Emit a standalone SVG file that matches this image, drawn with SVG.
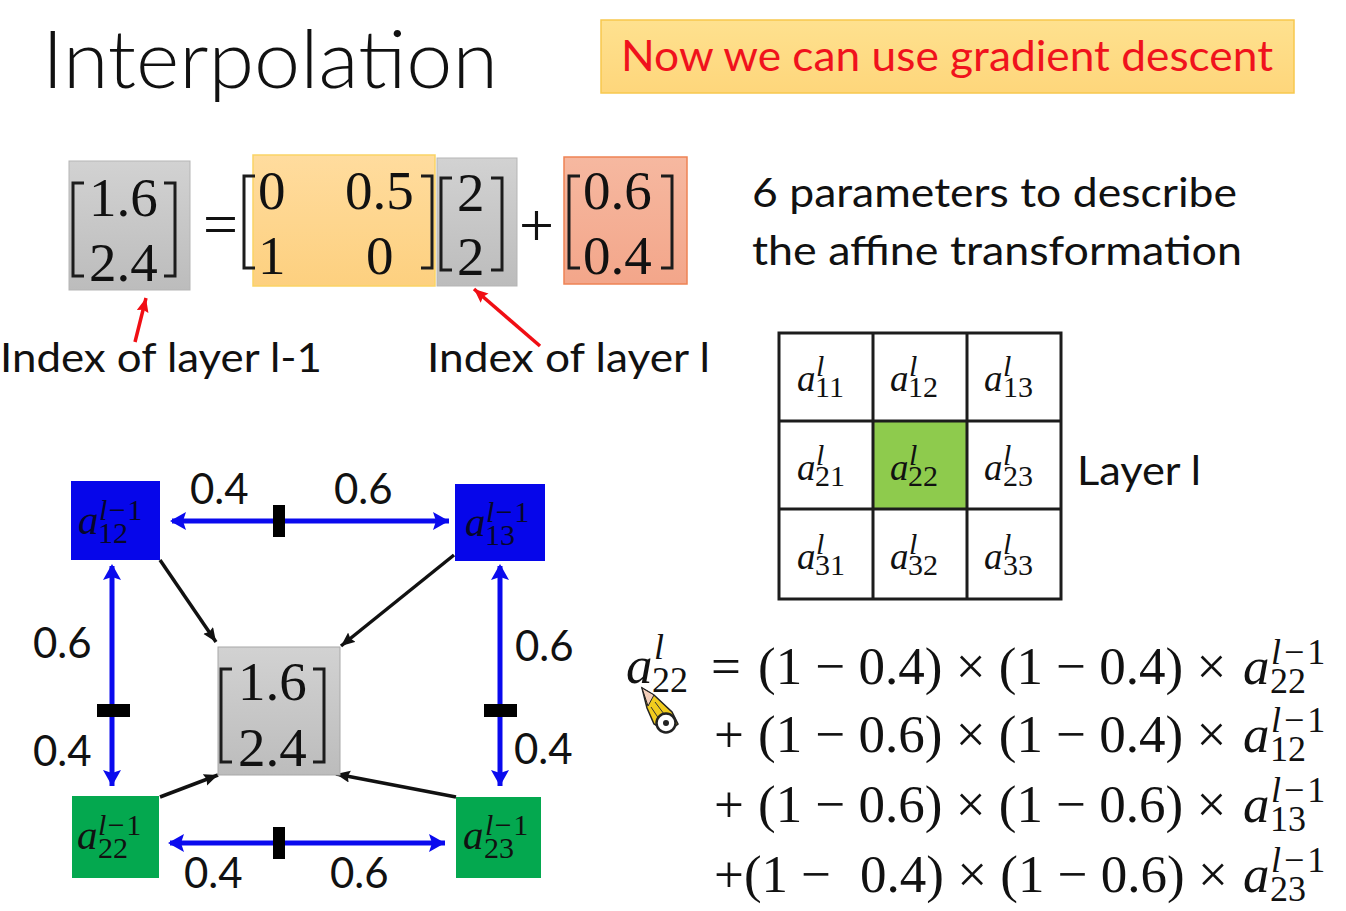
<svg xmlns="http://www.w3.org/2000/svg" width="1346" height="911" viewBox="0 0 1346 911">
<style>
text{font-family:"Liberation Serif",serif;fill:#111}
.s{font-family:Lato,"Open Sans",sans-serif}
.m{font-size:55px}
.op{font-size:62px}
.e{font-size:53px}
.i{font-style:italic}
.g{font-size:36px}
.ca{font-size:37px}
.t{font-size:30px}
.na{font-size:41px}
.lab{font-family:Lato,"Open Sans",sans-serif;font-size:42px}
.ls{letter-spacing:3px}
.ln{letter-spacing:1.5px}
.dk{fill:#07072a}
.br{fill:none;stroke:#1c1c1c;stroke-width:3}
.blue{stroke:#0a0aee;stroke-width:5;marker-start:url(#bs);marker-end:url(#be);fill:none}
.blk{stroke:#111;stroke-width:3.5;marker-end:url(#k);fill:none}
.red{stroke:#f00e14;stroke-width:3.5;marker-end:url(#r);fill:none}
.tick{fill:#000}
.grid{stroke:#1c1c1c;stroke-width:3;fill:none}
</style>
<defs>
<linearGradient id="gy" x1="0" y1="0" x2="0" y2="1"><stop offset="0" stop-color="#d2d2d2"/><stop offset="1" stop-color="#bcbcbc"/></linearGradient>
<linearGradient id="ye" x1="0" y1="0" x2="0" y2="1"><stop offset="0" stop-color="#ffdc9e"/><stop offset="1" stop-color="#fdd07f"/></linearGradient>
<linearGradient id="sa" x1="0" y1="0" x2="0" y2="1"><stop offset="0" stop-color="#f6b8a0"/><stop offset="1" stop-color="#f3a68a"/></linearGradient>
<linearGradient id="ban" x1="0" y1="0" x2="0" y2="1"><stop offset="0" stop-color="#fee18f"/><stop offset="1" stop-color="#fed67b"/></linearGradient>
<marker id="be" markerUnits="userSpaceOnUse" markerWidth="18" markerHeight="20" refX="16" refY="9" orient="auto"><path d="M0 0L16 9L0 18L3 9Z" fill="#0a0aee"/></marker>
<marker id="bs" markerUnits="userSpaceOnUse" markerWidth="18" markerHeight="20" refX="2" refY="9" orient="auto"><path d="M16 0L0 9L16 18L13 9Z" fill="#0a0aee"/></marker>
<marker id="k" markerUnits="userSpaceOnUse" markerWidth="16" markerHeight="14" refX="14" refY="6" orient="auto"><path d="M0 0L14 6L0 12L2 6Z" fill="#111"/></marker>
<marker id="r" markerUnits="userSpaceOnUse" markerWidth="16" markerHeight="14" refX="14" refY="6" orient="auto"><path d="M0 0L14 6L0 12L2 6Z" fill="#f00e14"/></marker>
</defs>
<rect width="1346" height="911" fill="#fff"/>

<g id="title"><text class="s" x="42" y="88" font-size="80" font-weight="300" textLength="456" lengthAdjust="spacingAndGlyphs">Interpolation</text></g>
<g id="banner"><rect x="601" y="20" width="693" height="73" fill="url(#ban)" stroke="#f7c84e" stroke-width="1.5"/>
<text class="s" x="621" y="71" font-size="43" textLength="652" lengthAdjust="spacingAndGlyphs" style="fill:#f0121c">Now we can use gradient descent</text></g>

<g id="matrix-left"><rect x="69" y="161" width="121" height="129" fill="url(#gy)" stroke="#b5b5b5"/>
<path class="br" d="M84 183H73V276H84M164 183H175V276H164"/>
<text class="m" x="89" y="216">1.6</text><text class="m" x="89" y="281">2.4</text></g>
<g id="equals"><text class="op" x="203" y="245">=</text></g>
<g id="matrix-affine"><rect x="253" y="155" width="182" height="131" fill="url(#ye)" stroke="#fad365" stroke-width="1.5"/>
<path class="br" d="M255 176H244V268H255M421 176H432V268H421"/>
<text class="m" x="258" y="209">0</text><text class="m" x="345" y="209">0.5</text>
<text class="m" x="258" y="274">1</text><text class="m" x="366" y="274">0</text></g>
<g id="matrix-index"><rect x="437" y="158" width="80" height="128" fill="url(#gy)" stroke="#b5b5b5"/>
<path class="br" d="M452 178H441V270H452M491 178H502V270H491"/>
<text class="m" x="457" y="211">2</text><text class="m" x="457" y="275">2</text></g>
<g id="plus"><text class="op" x="519" y="246">+</text></g>
<g id="matrix-offset"><rect x="564" y="157" width="123" height="127" fill="url(#sa)" stroke="#ee8354" stroke-width="1.5"/>
<path class="br" d="M580 176H569V268H580M661 176H672V268H661"/>
<text class="m" x="583" y="209">0.6</text><text class="m" x="583" y="274">0.4</text></g>

<g id="label-l1"><text class="s" x="0" y="372" font-size="40" textLength="322" lengthAdjust="spacingAndGlyphs">Index of layer l-1</text></g>
<g id="label-l"><text class="s" x="427" y="372" font-size="40" textLength="283" lengthAdjust="spacingAndGlyphs">Index of layer l</text></g>
<g id="params"><text class="s" x="752" y="207" font-size="40" textLength="485" lengthAdjust="spacingAndGlyphs">6 parameters to describe</text>
<text class="s" x="752" y="265" font-size="40" textLength="490" lengthAdjust="spacingAndGlyphs">the affine transformation</text></g>

<g id="grid"><rect x="873" y="421" width="94" height="88" fill="#8ecb4d"/>
<path class="grid" d="M779 333H1061V599H779ZM873 333V599M967 333V599M779 421H1061M779 509H1061"/>
<g id="c11"><text x="797" y="391" class="ca i">a<tspan class="t" x="816" dy="-15">l</tspan><tspan class="t" style="font-style:normal" x="815" dy="21">11</tspan></text></g>
<g id="c12"><text x="890" y="391" class="ca i">a<tspan class="t" x="909" dy="-15">l</tspan><tspan class="t" style="font-style:normal" x="908" dy="21">12</tspan></text></g>
<g id="c13"><text x="984" y="391" class="ca i">a<tspan class="t" x="1003" dy="-15">l</tspan><tspan class="t" style="font-style:normal" x="1003" dy="21">13</tspan></text></g>
<g id="c21"><text x="797" y="480" class="ca i">a<tspan class="t" x="816" dy="-15">l</tspan><tspan class="t" style="font-style:normal" x="815" dy="21">21</tspan></text></g>
<g id="c22"><text x="890" y="480" class="ca i">a<tspan class="t" x="909" dy="-15">l</tspan><tspan class="t" style="font-style:normal" x="908" dy="21">22</tspan></text></g>
<g id="c23"><text x="984" y="480" class="ca i">a<tspan class="t" x="1003" dy="-15">l</tspan><tspan class="t" style="font-style:normal" x="1003" dy="21">23</tspan></text></g>
<g id="c31"><text x="797" y="569" class="ca i">a<tspan class="t" x="816" dy="-15">l</tspan><tspan class="t" style="font-style:normal" x="815" dy="21">31</tspan></text></g>
<g id="c32"><text x="890" y="569" class="ca i">a<tspan class="t" x="909" dy="-15">l</tspan><tspan class="t" style="font-style:normal" x="908" dy="21">32</tspan></text></g>
<g id="c33"><text x="984" y="569" class="ca i">a<tspan class="t" x="1003" dy="-15">l</tspan><tspan class="t" style="font-style:normal" x="1003" dy="21">33</tspan></text></g>
</g>
<g id="layer-label"><text class="s" x="1077" y="485" font-size="40" textLength="124" lengthAdjust="spacingAndGlyphs">Layer l</text></g>

<g id="connectors">
<path class="red" d="M135 342L146 298"/>
<path class="red" d="M540 346L474 289"/>
<path class="blue" d="M172 521H449"/>
<path class="blue" d="M170 843H445"/>
<path class="blue" d="M112 566V786"/>
<path class="blue" d="M500 566V786"/>
<path class="blk" d="M160 560L216 642"/>
<path class="blk" d="M454 555L341 646"/>
<path class="blk" d="M160 797L218 775"/>
<path class="blk" d="M456 797L336 774"/>
<rect class="tick" x="273" y="505" width="12" height="32"/>
<rect class="tick" x="273" y="827" width="12" height="32"/>
<rect class="tick" x="97" y="704" width="33" height="13"/>
<rect class="tick" x="484" y="704" width="33" height="13"/>
</g>

<g id="n12"><rect x="71" y="481" width="89" height="79" fill="#0606ea"/>
<text x="78" y="534" class="na i dk">a<tspan class="t ln" x="99" dy="-14">l<tspan style="font-style:normal">−1</tspan></tspan><tspan class="t" style="font-style:normal" x="98" dy="23">12</tspan></text></g>
<g id="n13"><rect x="455" y="484" width="90" height="77" fill="#0606ea"/>
<text x="465" y="536" class="na i dk">a<tspan class="t ln" x="486" dy="-14">l<tspan style="font-style:normal">−1</tspan></tspan><tspan class="t" style="font-style:normal" x="485" dy="23">13</tspan></text></g>
<g id="n22"><rect x="72" y="796" width="87" height="82" fill="#04a84f"/>
<text x="77" y="849" class="na i">a<tspan class="t ln" x="98" dy="-14">l<tspan style="font-style:normal">−1</tspan></tspan><tspan class="t" style="font-style:normal" x="98" dy="23">22</tspan></text></g>
<g id="n23"><rect x="456" y="797" width="85" height="81" fill="#04a84f"/>
<text x="463" y="849" class="na i">a<tspan class="t ln" x="485" dy="-14">l<tspan style="font-style:normal">−1</tspan></tspan><tspan class="t" style="font-style:normal" x="484" dy="23">23</tspan></text></g>
<g id="center"><rect x="218" y="647" width="122" height="128" fill="url(#gy)" stroke="#a8a8a8"/>
<path class="br" d="M232 669H221V762H232M313 669H324V762H313"/>
<text class="m" x="238" y="700">1.6</text><text class="m" x="238" y="766">2.4</text></g>

<g id="weights">
<text class="lab" x="190" y="504">0.4</text><text class="lab" x="334" y="504">0.6</text>
<text class="lab" x="33" y="658">0.6</text><text class="lab" x="33" y="766">0.4</text>
<text class="lab" x="515" y="661">0.6</text><text class="lab" x="514" y="764">0.4</text>
<text class="lab" x="184" y="888">0.4</text><text class="lab" x="330" y="888">0.6</text>
</g>

<g id="equation">
<text x="626" y="683" class="e i">a<tspan class="g" x="654" dy="-24">l</tspan><tspan class="g" style="font-style:normal" x="652" dy="33">22</tspan></text>
<text class="e" x="711" y="684">=</text>
<text class="e" x="758" y="684">(1 − 0.4) × (1 − 0.4) ×</text>
<text x="1243" y="684" class="e i">a<tspan class="g ls" x="1271" dy="-20">l<tspan style="font-style:normal">−1</tspan></tspan><tspan class="g" style="font-style:normal" x="1270" dy="29">22</tspan></text>
<text class="e" x="714" y="752">+</text>
<text class="e" x="758" y="752">(1 − 0.6) × (1 − 0.4) ×</text>
<text x="1243" y="752" class="e i">a<tspan class="g ls" x="1271" dy="-20">l<tspan style="font-style:normal">−1</tspan></tspan><tspan class="g" style="font-style:normal" x="1270" dy="29">12</tspan></text>
<text class="e" x="714" y="822">+</text>
<text class="e" x="758" y="822">(1 − 0.6) × (1 − 0.6) ×</text>
<text x="1243" y="822" class="e i">a<tspan class="g ls" x="1271" dy="-20">l<tspan style="font-style:normal">−1</tspan></tspan><tspan class="g" style="font-style:normal" x="1270" dy="29">13</tspan></text>
<text class="e" x="714" y="892">+(1 −</text>
<text class="e" x="860" y="892">0.4) × (1 − 0.6) ×</text>
<text x="1243" y="892" class="e i">a<tspan class="g ls" x="1271" dy="-20">l<tspan style="font-style:normal">−1</tspan></tspan><tspan class="g" style="font-style:normal" x="1270" dy="29">23</tspan></text>
</g>

<g id="pencil">
<path d="M642 688L654 695L672 712L678 724L668 732L654 724L647 708Z" fill="#f2cc1e" stroke="#222" stroke-width="1.5"/>
<path d="M642 688L654 695L648 706Z" fill="#f3cdb8" stroke="#222"/>
<path d="M655 702L664 714M651 707L659 719" stroke="#333" fill="none"/>
<circle cx="666" cy="723" r="9.5" fill="#fff" stroke="#222" stroke-width="2.5"/>
<circle cx="666" cy="723" r="3" fill="#222"/>
</g>
</svg>
